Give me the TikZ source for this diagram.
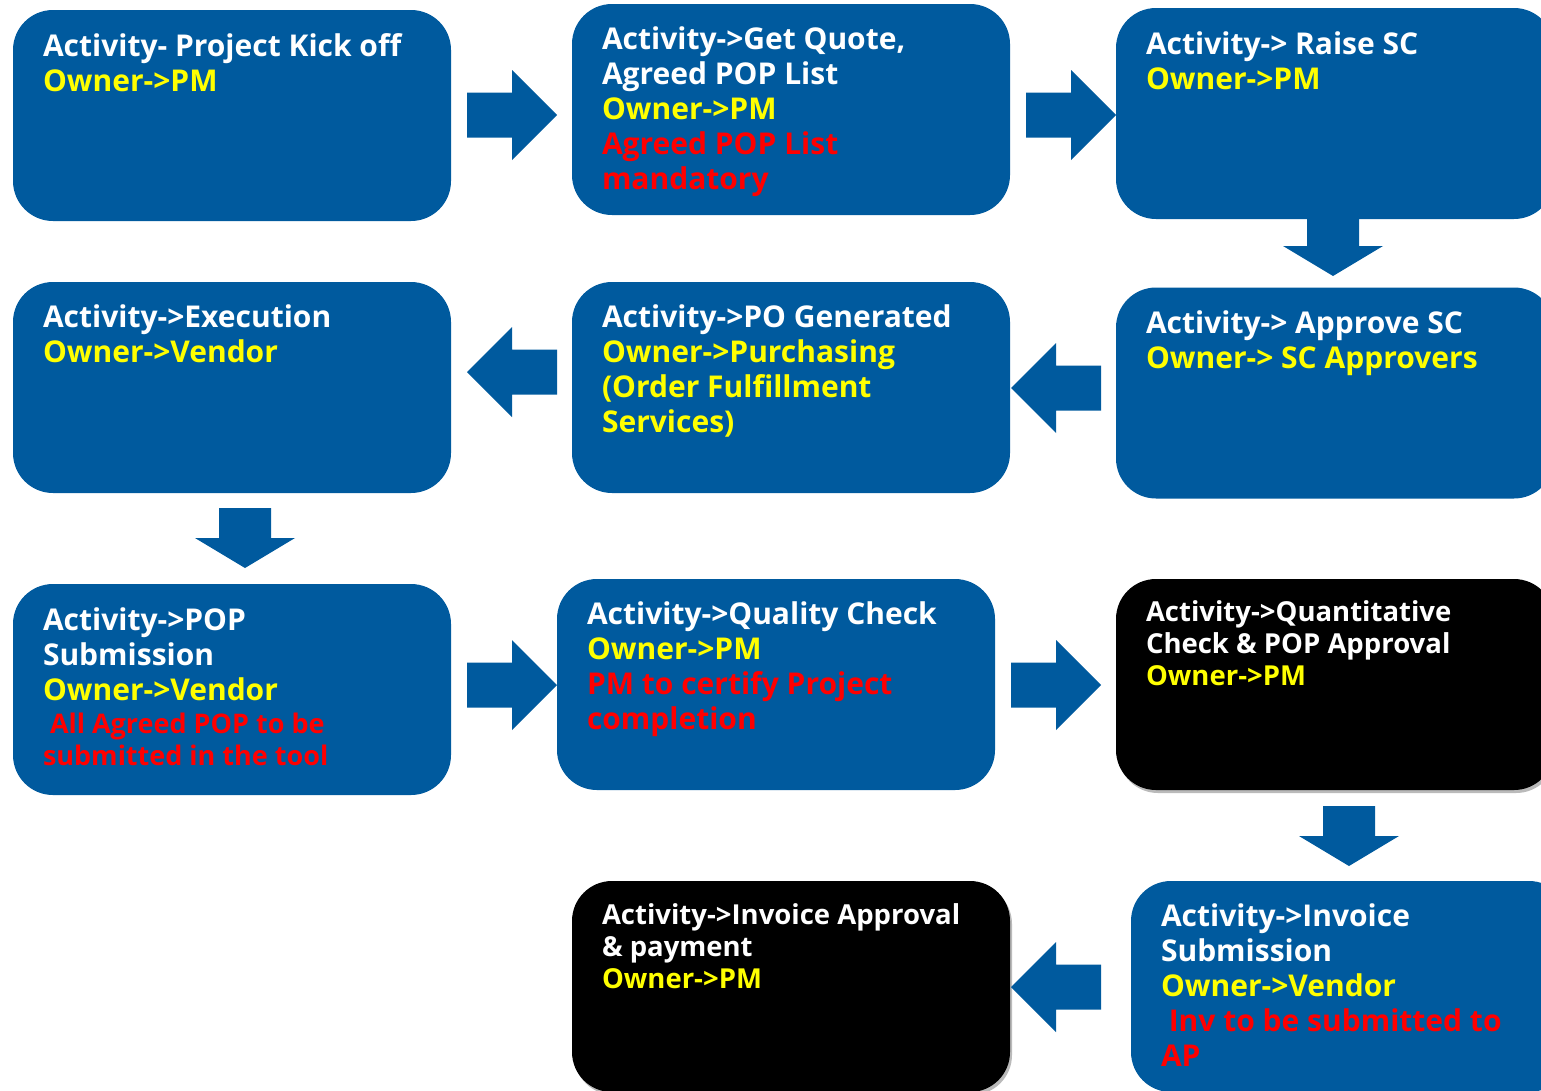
\documentclass[tikz,border=0pt]{standalone}
\usepackage{fontspec}
\setmainfont{Open Sans}
\usepackage{tikz}
\usetikzlibrary{positioning,shadows,calc}
\definecolor{stepblue}{RGB}{0,90,158}
\definecolor{ownyellow}{RGB}{255,255,0}
\definecolor{notered}{RGB}{255,0,0}
\tikzset{%
	stage/.style      = {rectangle, rounded corners=40pt, minimum width=438pt, minimum height=211pt, inner sep=0pt, fill=stepblue},
	blackstage/.style = {stage, fill=black, drop shadow={shadow xshift=2pt, shadow yshift=-3pt, fill=black!45, opacity=0.6}},
	stagetext/.style  = {anchor=north west, align=left, inner sep=0pt, text=white, font=\bfseries\fontsize{30}{35}\selectfont},
	smalltext/.style  = {stagetext, font=\bfseries\fontsize{27.5}{32}\selectfont},
	hblock/.pic       = {\fill[stepblue] (-45,-22.5) -- (0,-22.5) -- (0,-45) -- (45,0) -- (0,45) -- (0,22.5) -- (-45,22.5) -- cycle;},
	vblock/.pic       = {\fill[stepblue] (-30,-26) -- (0,-26) -- (0,-50) -- (30,0) -- (0,50) -- (0,26) -- (-30,26) -- cycle;},
}
\newcommand{\own}[1]{\textcolor{ownyellow}{#1}}
\newcommand{\must}[1]{\textcolor{notered}{#1}}

\begin{document}
\begin{tikzpicture}[x=1pt,y=-1pt]
	\useasboundingbox (0,0) rectangle (1541,1090);
	\clip (0,0) rectangle (1541,1090);
	% stages
	\node[stage] (kickoff) at (232,115.5) {};
	\node[stage] (getquote) at (791,109.5) {};
	\node[stage] (raisesc) at (1335,113.5) {};
	\node[stage] (execution) at (232,387.5) {};
	\node[stage] (pogen) at (791,387.5) {};
	\node[stage] (approvesc) at (1335,393) {};
	\node[stage] (popsub) at (232,689.5) {};
	\node[stage] (quality) at (776,684.5) {};
	\node[blackstage] (quant) at (1335,684.5) {};
	\node[blackstage] (invappr) at (791,986.5) {};
	\node[stage] (invsub) at (1350,986.5) {};
	% texts
	\node[stagetext] (kickofftext) at ([shift={(30,24)}]kickoff.north west) {Activity- Project Kick off\\ \own{Owner->PM}};
	\node[stagetext] (getquotetext) at ([shift={(30,23)}]getquote.north west) {Activity->Get Quote,\\Agreed POP List\\ \own{Owner->PM}\\ \must{Agreed POP List}\\ \must{mandatory}};
	\node[stagetext] (raisesctext) at ([shift={(30,24)}]raisesc.north west) {Activity-> Raise SC\\ \own{Owner->PM}};
	\node[stagetext] (executiontext) at ([shift={(30,23)}]execution.north west) {Activity->Execution\\ \own{Owner->Vendor}};
	\node[stagetext] (pogentext) at ([shift={(30,23)}]pogen.north west) {Activity->PO Generated\\ \own{Owner->Purchasing}\\ \own{(Order Fulfillment}\\ \own{Services)}};
	\node[stagetext] (approvesctext) at ([shift={(30,23)}]approvesc.north west) {Activity-> Approve SC\\ \own{Owner-> SC Approvers}};
	\node[stagetext] (popsubtext) at ([shift={(30,24)}]popsub.north west) {Activity->POP\\Submission\\ \own{Owner->Vendor}\\[-2pt] \must{\fontsize{27}{32}\selectfont~All Agreed POP to be}\\[-3pt] \must{\fontsize{27}{32}\selectfont submitted in the tool}};
	\node[stagetext] (qualitytext) at ([shift={(30,23)}]quality.north west) {Activity->Quality Check\\ \own{Owner->PM}\\ \must{PM to certify Project}\\ \must{completion}};
	\node[smalltext] (quanttext) at ([shift={(30,22)}]quant.north west) {Activity->Quantitative\\Check \& POP Approval\\ \own{Owner->PM}};
	\node[smalltext] (invapprtext) at ([shift={(30,23)}]invappr.north west) {Activity->Invoice Approval\\\& payment\\ \own{Owner->PM}};
	\node[stagetext] (invsubtext) at ([shift={(30,23)}]invsub.north west) {Activity->Invoice\\Submission\\ \own{Owner->Vendor}\\ \must{~Inv to be submitted to}\\ \must{AP}};
	% block arrows
	\pic at (512,115) {hblock};
	\pic at (1071,115) {hblock};
	\pic[rotate=-90] at (1333,246) {vblock};
	\pic[rotate=180] at (1056,388) {hblock};
	\pic[rotate=180] at (512,372) {hblock};
	\pic[rotate=-90] at (245,538) {vblock};
	\pic at (512,685) {hblock};
	\pic at (1056,685) {hblock};
	\pic[rotate=-90] at (1349,836) {vblock};
	\pic[rotate=180] at (1056,987) {hblock};
\end{tikzpicture}
\end{document}
